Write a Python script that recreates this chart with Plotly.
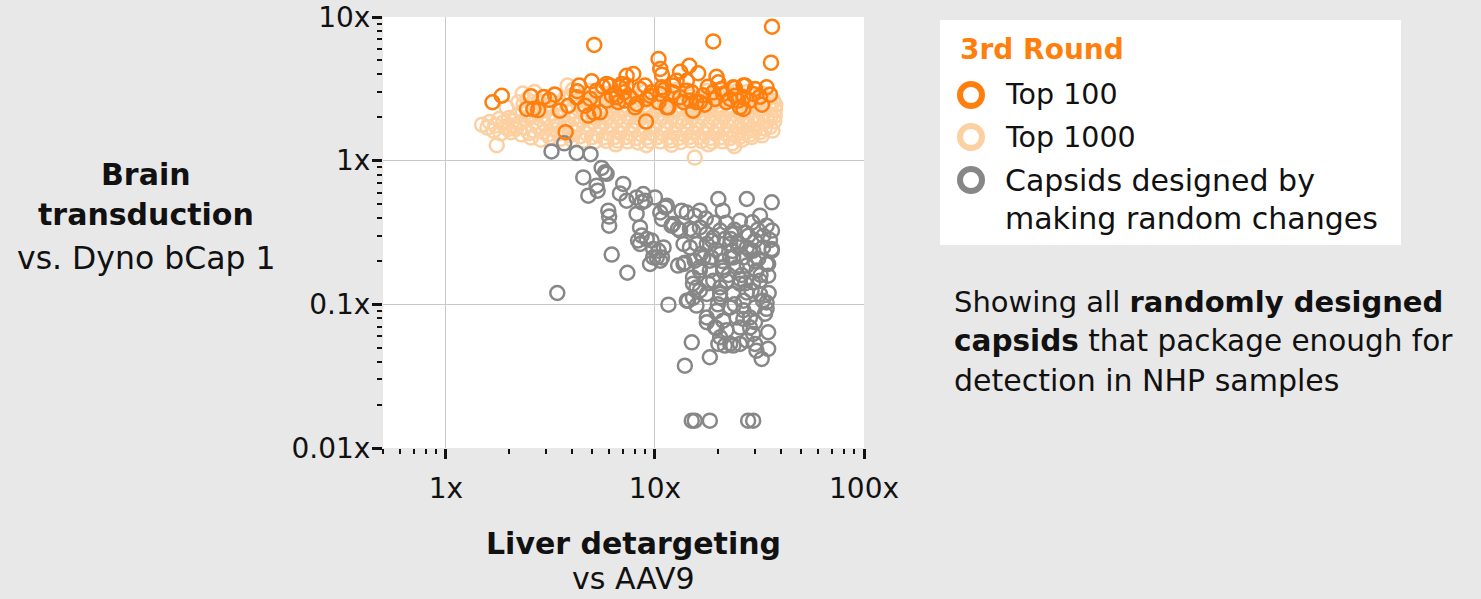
import plotly.graph_objects as go

# ---- data: fold change vs reference (x: liver detargeting vs AAV9, y: brain transduction vs Dyno bCap 1)
TOP_100 = [
    (1.67, 2.55), (1.85, 2.83), (2.55, 2.81), (2.44, 2.29), (2.62, 2.29), (2.76, 2.25),
    (2.94, 2.77), (3.12, 2.65), (3.32, 2.88), (3.85, 2.41), (4.25, 3.04), (4.34, 3.33),
    (4.80, 2.06), (5.11, 2.16), (5.12, 6.39), (4.98, 3.57), (5.26, 3.07), (5.64, 3.27),
    (5.87, 2.62), (6.09, 3.33), (6.56, 2.76), (6.93, 3.42), (7.32, 3.90), (7.11, 2.99),
    (3.74, 1.58), (19.0, 6.76), (36.3, 8.56), (35.9, 4.81), (10.4, 5.10), (10.6, 4.35),
    (10.8, 3.97), (7.88, 4.01), (9.06, 1.87), (13.2, 4.16), (14.6, 4.58), (16.1, 4.06),
    (14.2, 3.60), (19.7, 3.84), (20.1, 3.51), (24.1, 3.21), (27.0, 3.33), (30.1, 3.16),
    (34.2, 3.24), (35.5, 2.88), (25.5, 2.35), (26.5, 2.76), (22.9, 2.69), (19.4, 2.69),
    (6.67, 2.55), (8.02, 2.35), (11.4, 2.35), (13.7, 2.55), (15.8, 2.55), (5.87, 3.42),
    (6.80, 3.24), (8.48, 3.16), (9.47, 2.83), (10.6, 2.91), (12.2, 2.99), (15.0, 2.99),
    (7.59, 2.76), (5.46, 2.17), (7.32, 3.33), (9.64, 2.99), (10.8, 3.24), (12.2, 3.33),
    (14.2, 3.07), (7.19, 2.62), (8.17, 2.48), (9.13, 2.69), (10.4, 2.55), (11.6, 2.35),
    (13.2, 2.76), (14.7, 2.62), (16.4, 2.55), (19.0, 2.99), (21.2, 2.91), (23.7, 3.24),
    (26.5, 3.33), (22.0, 2.55), (25.0, 2.62), (26.5, 2.29), (29.5, 2.91), (24.1, 2.83),
    (31.8, 2.79), (6.22, 2.83), (8.96, 3.33), (12.7, 3.60), (15.2, 2.23), (17.9, 3.27),
    (17.3, 2.45), (28.5, 2.62), (32.5, 2.45), (4.89, 2.70), (4.63, 2.41), (3.51, 2.23),
    (4.22, 2.76), (11.0, 3.10), (17.0, 2.85), (20.8, 3.15),
]

TOP_1000 = [
    (1.49, 1.78), (1.58, 1.70), (1.72, 1.76), (1.75, 1.28), (1.80, 1.95), (1.69, 1.62),
    (1.92, 1.72), (1.98, 1.66), (1.88, 1.84), (1.95, 2.35),
    (2.05, 1.58), (2.12, 1.76), (2.18, 2.05), (2.08, 1.88), (2.22, 2.55),
    (2.30, 1.52), (2.38, 1.70), (2.42, 1.95), (2.33, 2.20), (2.45, 2.65), (2.33, 2.93),
    (2.55, 1.45), (2.62, 1.62), (2.68, 1.85), (2.58, 2.10), (2.72, 2.40), (2.65, 3.00),
    (2.85, 1.40), (2.92, 1.58), (2.98, 1.80), (2.88, 2.05), (3.02, 2.30), (2.95, 2.75),
    (3.15, 1.45), (3.25, 1.66), (3.35, 1.90), (3.20, 2.15), (3.40, 2.50), (3.30, 2.90),
    (3.55, 1.42), (3.65, 1.60), (3.75, 1.85), (3.60, 2.08), (3.80, 2.35), (3.70, 2.72), (3.82, 3.33),
    (4.00, 1.40), (4.15, 1.58), (4.30, 1.78), (4.10, 2.00), (4.35, 2.25), (4.20, 2.60), (4.05, 3.10),
    (4.55, 1.38), (4.70, 1.55), (4.85, 1.75), (4.65, 1.98), (4.95, 2.20), (4.75, 2.55), (4.90, 3.05),
    (5.15, 1.36), (5.30, 1.52), (5.50, 1.72), (5.25, 1.95), (5.60, 2.18), (5.40, 2.50), (5.55, 2.95),
    (5.85, 1.37), (6.00, 1.55), (6.20, 1.75), (5.95, 1.98), (6.30, 2.22), (6.10, 2.55), (6.25, 3.00), (6.50, 1.30),
    (6.60, 1.38), (6.80, 1.56), (7.00, 1.76), (6.70, 2.00), (7.10, 2.25), (6.90, 2.60), (7.05, 3.10),
    (7.40, 1.36), (7.65, 1.54), (7.90, 1.74), (7.55, 1.98), (8.00, 2.22), (7.80, 2.58), (7.70, 3.05),
    (8.30, 1.34), (8.60, 1.52), (8.90, 1.72), (8.50, 1.96), (9.00, 2.20), (8.75, 2.55), (8.85, 3.00), (9.10, 1.28),
    (9.40, 1.37), (9.70, 1.55), (10.0, 1.76), (9.60, 2.00), (10.2, 2.24), (9.90, 2.60), (10.1, 3.05),
    (10.6, 1.36), (10.9, 1.54), (11.3, 1.74), (10.8, 1.98), (11.5, 2.22), (11.1, 2.55), (11.2, 3.00),
    (11.9, 1.38), (12.3, 1.56), (12.7, 1.78), (12.1, 2.02), (12.9, 2.26), (12.5, 2.62), (12.6, 3.10), (12.0, 1.29),
    (13.3, 1.35), (13.8, 1.52), (14.2, 1.72), (13.6, 1.96), (14.5, 2.20), (14.0, 2.55), (14.1, 3.00),
    (14.9, 1.38), (15.4, 1.56), (15.9, 1.76), (15.1, 2.00), (16.2, 2.24), (15.6, 2.62), (15.5, 1.05),
    (16.7, 1.37), (17.3, 1.55), (17.9, 1.74), (17.0, 1.98), (18.2, 2.22), (17.6, 2.58), (17.8, 3.05), (18.0, 1.30),
    (18.8, 1.35), (19.4, 1.54), (20.1, 1.74), (19.1, 1.98), (20.4, 2.22), (19.8, 2.58), (19.9, 3.10),
    (21.0, 1.36), (21.7, 1.55), (22.4, 1.75), (21.3, 2.00), (22.8, 2.24), (22.1, 2.60), (22.3, 3.00),
    (23.4, 1.32), (24.2, 1.50), (25.0, 1.70), (23.8, 1.95), (25.4, 2.20), (24.6, 2.55), (24.8, 3.05), (24.0, 1.26),
    (26.1, 1.40), (26.9, 1.56), (27.8, 1.76), (26.5, 2.00), (28.2, 2.24), (27.4, 2.60), (27.6, 3.00),
    (29.0, 1.46), (30.0, 1.62), (31.0, 1.82), (29.5, 2.05), (31.5, 2.30), (30.4, 2.65), (30.8, 3.10),
    (32.5, 1.50), (33.5, 1.68), (34.5, 1.88), (33.0, 2.10), (35.0, 2.40), (34.0, 2.75),
    (36.5, 1.62), (37.2, 1.88), (37.5, 2.25), (36.8, 2.60),
    (1.62, 1.86), (1.83, 1.55), (2.00, 1.98), (2.15, 1.66), (2.27, 1.85), (2.35, 2.45),
    (2.50, 1.56), (2.52, 2.00), (2.75, 1.72), (2.80, 2.18), (2.78, 2.60), (3.08, 1.52),
    (3.10, 1.98), (3.12, 2.40), (3.45, 1.55), (3.48, 1.78), (3.45, 2.25), (3.90, 1.50),
    (3.95, 1.72), (3.92, 2.18), (3.98, 2.82), (4.40, 1.48), (4.45, 1.92), (4.48, 2.42),
    (4.55, 2.80), (5.00, 1.46), (5.05, 1.86), (5.05, 2.40), (5.70, 1.45), (5.75, 1.85),
    (5.80, 2.38), (5.72, 2.75), (6.40, 1.46), (6.45, 1.88), (6.50, 2.42), (6.45, 2.85),
    (7.25, 1.46), (7.20, 1.88), (7.30, 2.42), (7.35, 2.80), (8.10, 1.44), (8.15, 1.86),
    (8.20, 2.40), (8.25, 2.78), (9.20, 1.45), (9.25, 1.85), (9.30, 2.38), (9.35, 2.80),
    (10.3, 1.46), (10.4, 1.88), (10.5, 2.40), (10.6, 2.80), (11.6, 1.45), (11.7, 1.86),
    (11.8, 2.40), (11.9, 2.80), (13.0, 1.44), (13.1, 1.86), (13.2, 2.40), (13.3, 2.80),
    (14.6, 1.46), (14.6, 1.86), (14.7, 2.40), (14.8, 2.80), (16.3, 1.46), (16.4, 1.88),
    (16.5, 2.40), (16.4, 2.82), (18.4, 1.44), (18.5, 1.86), (18.6, 2.40), (18.5, 2.80),
    (20.6, 1.45), (20.7, 1.86), (20.8, 2.40), (20.8, 2.82), (23.0, 1.44), (23.1, 1.85),
    (23.2, 2.40), (23.3, 2.80), (25.8, 1.48), (25.9, 1.88), (26.0, 2.40), (26.0, 2.80),
    (28.6, 1.52), (28.8, 1.92), (28.9, 2.42), (29.0, 2.82), (31.8, 1.58), (32.0, 1.96),
    (32.2, 2.50), (32.4, 2.92), (35.5, 1.72), (35.8, 2.05), (36.0, 2.45), (35.6, 2.90),
    (37.4, 2.05), (37.6, 2.45),
]

RANDOM_CHANGES = [
    (3.20, 1.16), (3.68, 1.32), (4.22, 1.13), (4.92, 1.11), (5.56, 0.89), (5.77, 0.83),
    (4.54, 0.765), (5.26, 0.670), (4.80, 0.571), (5.32, 0.618), (7.05, 0.689), (6.80, 0.592),
    (7.32, 0.527), (5.98, 0.449), (6.04, 0.408), (6.04, 0.353), (6.21, 0.222), (7.38, 0.166),
    (3.41, 0.120), (8.17, 0.555), (8.79, 0.586), (8.96, 0.527), (10.0, 0.555), (8.17, 0.426),
    (10.6, 0.436), (11.2, 0.473), (10.8, 0.393), (12.2, 0.363), (13.4, 0.449), (14.2, 0.436),
    (13.2, 0.326), (14.7, 0.335), (8.48, 0.343), (8.64, 0.301), (9.13, 0.285), (8.48, 0.263),
    (9.81, 0.243), (11.0, 0.249), (10.2, 0.212), (9.47, 0.191), (10.6, 0.201), (12.9, 0.186),
    (13.7, 0.191), (20.1, 0.541), (21.1, 0.449), (27.5, 0.541), (36.2, 0.513), (29.2, 0.372),
    (5.87, 0.81), (8.64, 0.513), (8.30, 0.278), (9.64, 0.278), (10.4, 0.236), (9.81, 0.212),
    (10.8, 0.212), (11.4, 0.486), (12.0, 0.353), (12.9, 0.335), (13.7, 0.263), (13.9, 0.195),
    (15.2, 0.326), (16.4, 0.343), (17.7, 0.309), (15.8, 0.263), (19.0, 0.292), (20.5, 0.326),
    (21.6, 0.285), (23.2, 0.309), (24.9, 0.270), (27.5, 0.249), (30.1, 0.278), (32.9, 0.249),
    (36.2, 0.243), (34.8, 0.191), (34.8, 0.158), (29.5, 0.236), (26.5, 0.212), (23.7, 0.212),
    (20.5, 0.224), (18.6, 0.212), (16.6, 0.224), (15.5, 0.201), (16.4, 0.172), (18.3, 0.172),
    (21.2, 0.181), (24.6, 0.181), (27.5, 0.186), (30.6, 0.172), (19.0, 0.146), (22.0, 0.146),
    (25.5, 0.150), (29.5, 0.142), (15.2, 0.139), (16.4, 0.125), (20.5, 0.118), (23.7, 0.118),
    (27.5, 0.121), (31.8, 0.118), (11.6, 0.0995), (15.0, 0.0544), (13.9, 0.0374), (18.3, 0.0428),
    (20.1, 0.053), (21.6, 0.0516), (23.7, 0.0516), (25.5, 0.053), (20.5, 0.059), (30.1, 0.053),
    (32.4, 0.0417), (34.8, 0.049), (34.8, 0.0639), (29.5, 0.0622), (17.7, 0.075), (19.4, 0.069),
    (22.0, 0.066), (25.5, 0.069), (28.5, 0.069), (15.0, 0.0155), (15.5, 0.0155), (18.3, 0.0155),
    (27.9, 0.0155), (29.5, 0.0155), (36.2, 0.236), (14.2, 0.106), (15.2, 0.111), (17.7, 0.118),
    (17.7, 0.081), (19.7, 0.090), (22.9, 0.095), (26.5, 0.106), (30.1, 0.095), (32.9, 0.106),
    (33.6, 0.086), (28.5, 0.081), (24.6, 0.081), (21.2, 0.077), (15.8, 0.131), (20.5, 0.131),
    (25.5, 0.139), (31.8, 0.146), (16.4, 0.181), (21.2, 0.172), (34.2, 0.191), (15.2, 0.154),
    (18.3, 0.201), (22.9, 0.212), (28.5, 0.236), (22.9, 0.263), (17.7, 0.263), (14.7, 0.249),
    (16.4, 0.449), (17.5, 0.395), (19.2, 0.370), (15.5, 0.414), (18.8, 0.278), (21.9, 0.370),
    (25.5, 0.382), (31.8, 0.414), (34.2, 0.353), (36.3, 0.326), (27.0, 0.316), (31.2, 0.208),
    (19.7, 0.068), (22.9, 0.053), (27.5, 0.0559), (30.6, 0.0476), (30.1, 0.075), (26.5, 0.079),
    (14.4, 0.106), (15.8, 0.098), (20.5, 0.112), (34.2, 0.103), (34.2, 0.093),
    (19.5, 0.240), (23.5, 0.235), (26.0, 0.160), (33.0, 0.300), (28.0, 0.300), (24.0, 0.330),
    (30.0, 0.200), (17.0, 0.210), (35.5, 0.280), (22.5, 0.160),
    (25.0, 0.250), (27.0, 0.140), (21.0, 0.200), (32.0, 0.160), (29.0, 0.125), (24.0, 0.100),
    (20.0, 0.100), (35.0, 0.120), (26.5, 0.091), (18.0, 0.140), (23.0, 0.285), (31.0, 0.330),
]

X_TICKS = [1, 10, 100]
X_TICK_TEXT = ["1x", "10x", "100x"]
Y_TICKS = [0.01, 0.1, 1, 10]
Y_TICK_TEXT = ["0.01x", "0.1x", "1x", "10x"]
X_MINOR = [0.5, 0.6, 0.7, 0.8, 0.9, 2, 3, 4, 5, 6, 7, 8, 9, 20, 30, 40, 50, 60, 70, 80, 90]
Y_MINOR = [0.02, 0.03, 0.04, 0.05, 0.06, 0.07, 0.08, 0.09,
           0.2, 0.3, 0.4, 0.5, 0.6, 0.7, 0.8, 0.9,
           2, 3, 4, 5, 6, 7, 8, 9]

SERIES_NAMES = ["Top 100", "Top 1000", "Capsids designed by", "making random changes"]

# ---- styling
FONT = "DejaVu Sans, sans-serif"
ORANGE = "#ff7f0e"
PEACH = "#fdd0a2"
GREY = "#878787"
BG = "#e8e8e8"
W, H = 1481, 599
L, R, T, B = 383, 617, 17, 151
PW, PH = W - L - R, H - T - B


def px(xp):
    return (xp - L) / PW


def py(yp):
    return (H - B - yp) / PH


def scatter(points, color, name):
    return go.Scatter(
        x=[p[0] for p in points], y=[p[1] for p in points], mode="markers", name=name,
        marker=dict(symbol="circle-open", size=14, color=color, line=dict(width=2.5, color=color)),
        showlegend=False, hoverinfo="x+y",
    )


fig = go.Figure()
fig.add_trace(scatter(TOP_1000, PEACH, "Top 1000"))
fig.add_trace(scatter(RANDOM_CHANGES, GREY, "Random changes"))
fig.add_trace(scatter(TOP_100, ORANGE, "Top 100"))

axis_common = dict(
    type="log", showline=False, zeroline=False, automargin=False,
    gridcolor="#c9c9c9", gridwidth=1,
    ticks="outside", ticklen=10, tickwidth=3, tickcolor="#111",
    tickfont=dict(family=FONT, size=28, color="#111"),
    minor=dict(ticks="outside", ticklen=5, tickwidth=1.5, tickcolor="#111", showgrid=False),
)

fig.update_xaxes(
    **axis_common, range=[-0.30103, 2], tickmode="array", tickvals=X_TICKS, ticktext=X_TICK_TEXT,
    ticklabelstandoff=5,
)
fig.update_xaxes(minor_tickvals=X_MINOR)
fig.update_yaxes(
    **axis_common, range=[-2, 1], tickmode="array", tickvals=Y_TICKS, ticktext=Y_TICK_TEXT,
    ticklabelstandoff=-4,
)
fig.update_yaxes(minor_tickvals=Y_MINOR)

ann = []


def text(x, y, s, size=30, color="#111", anchor="left"):
    ann.append(dict(x=x, y=y, xref="paper", yref="paper", text=s, showarrow=False,
                    xanchor=anchor, yanchor="middle",
                    font=dict(family=FONT, size=size, color=color)))


# axis titles
text(px(146), py(174), "<b>Brain</b>", anchor="center")
text(px(146), py(214), "<b>transduction</b>", anchor="center")
text(px(146), py(258), "vs. Dyno bCap 1", size=31.5, anchor="center")
text(px(633), py(543), "<b>Liver detargeting</b>", anchor="center")
text(px(633), py(578), "vs AAV9", size=30, anchor="center")

# legend
text(px(958), py(50), "<b>3rd Round</b>", size=28, color=ORANGE)
text(px(1003), py(95), SERIES_NAMES[0], size=28.5)
text(px(1003), py(137), SERIES_NAMES[1], size=28.5)
text(px(1003), py(180), SERIES_NAMES[2])
text(px(1003), py(218), SERIES_NAMES[3])

# note
text(px(952), py(302), "Showing all <b>randomly designed</b>", size=29)
text(px(952), py(341), "<b>capsids</b> that package enough for", size=29.5)
text(px(952), py(380), "detection in NHP samples", size=30)

shapes = [dict(type="rect", xref="paper", yref="paper", x0=px(940), x1=px(1401),
               y0=py(245), y1=py(20), fillcolor="white", line=dict(width=0), layer="below")]
for cy, col in [(95, ORANGE), (137, PEACH), (180, GREY)]:
    shapes.append(dict(type="circle", xref="paper", yref="paper", xsizemode="pixel", ysizemode="pixel",
                       xanchor=px(971), yanchor=py(cy), x0=-11, x1=11, y0=-11, y1=11,
                       line=dict(color=col, width=6), fillcolor="rgba(0,0,0,0)"))

fig.update_layout(
    width=W, height=H, margin=dict(l=L, r=R, t=T, b=B, pad=0),
    paper_bgcolor=BG, plot_bgcolor="white", showlegend=False,
    annotations=ann, shapes=shapes, font=dict(family=FONT, color="#111"),
)

fig.write_html("out.html")
